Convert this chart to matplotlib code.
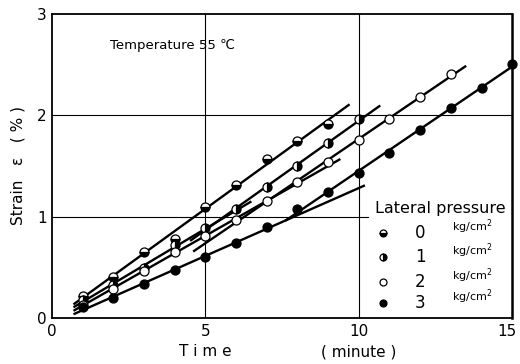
import numpy as np
import matplotlib
matplotlib.use("Agg")
import matplotlib.pyplot as plt
from matplotlib.transforms import ScaledTranslation

plt.rcParams['font.family'] = ['DejaVu Sans']

# strain readings (%) at each minute, one list per lateral pressure
t0 = [1, 2, 3, 4, 5, 6, 7, 8, 9]
s0 = [0.22, 0.41, 0.65, 0.78, 1.10, 1.31, 1.57, 1.75, 1.91]
t1 = [1, 2, 3, 4, 5, 6, 7, 8, 9, 10]
s1 = [0.18, 0.33, 0.49, 0.72, 0.885, 1.08, 1.29, 1.50, 1.73, 1.96]
t2 = [1, 2, 3, 4, 5, 6, 7, 8, 9, 10, 11, 12, 13]
s2 = [0.13, 0.29, 0.46, 0.65, 0.81, 0.97, 1.15, 1.345, 1.54, 1.76, 1.96, 2.185, 2.405]
t3 = [1, 2, 3, 4, 5, 6, 7, 8, 9, 10, 11, 12, 13, 14, 15]
s3 = [0.105, 0.195, 0.34, 0.47, 0.605, 0.743, 0.90, 1.08, 1.247, 1.434, 1.626, 1.85, 2.07, 2.27, 2.51]

pressures = ['0', '1', '2', '3']
fills = ['bottom', 'right', 'none', 'full']

# straight-line fits: (fit from, fit to, draw from, draw to)
segments = [
    [(1, 9, 0.7, 9.7)],
    [(1, 5, 0.7, 6.5), (5, 10, 4.5, 10.7)],
    [(1, 5, 0.7, 9.4), (6, 13, 4.6, 13.5)],
    [(1, 7, 0.7, 10.2), (8, 15, 7.6, 15.0)],
]

series = [(t0, s0), (t1, s1), (t2, s2), (t3, s3)]


def marker(ax, x, y, fs, ms, **kw):
    if fs == 'none':
        ax.plot(x, y, 'o', ms=ms, mfc='white', mec='black', mew=0.9, **kw)
    elif fs == 'full':
        ax.plot(x, y, 'o', ms=ms, mfc='black', mec='black', mew=0.9, **kw)
    else:
        ax.plot(x, y, 'o', ms=ms, fillstyle=fs, mfc='black', mfcalt='white',
                mec='black', mew=0.9, **kw)


fig = plt.figure(figsize=(5.2, 3.64), dpi=100)
ax = fig.add_axes([0.1, 0.126, 0.885, 0.836])

ax.set_xlim(0, 15)
ax.set_ylim(0, 3)

# grid lines
for gx in [5, 10]:
    ax.axvline(gx, color='black', lw=0.8, zorder=1)
ax.axhline(2, color='black', lw=0.8, zorder=1)
ax.plot([0, 10.3], [1, 1], color='black', lw=0.8, zorder=1)

for (t, s), segs, fs in zip(series, segments, fills):
    t = np.array(t)
    s = np.array(s)
    for a, b, d0, d1 in segs:
        m = (t >= a) & (t <= b)
        k, c = np.polyfit(t[m], s[m], 1)
        xx = np.array([d0, d1])
        ax.plot(xx, k * xx + c, color='black', lw=1.7, zorder=2, solid_capstyle='butt')
    marker(ax, t, s, fs, 6.5, zorder=3, clip_on=False)

ax.text(1.9, 2.69, 'Temperature 55 \u2103', fontsize=9.5, va='center', ha='left')

# legend drawn by hand
ax.text(0.702, 0.36, 'Lateral pressure', transform=ax.transAxes, fontsize=11.5,
        va='center', ha='left')
rows_y = [0.28, 0.20, 0.12, 0.05]
for yy, p, fs in zip(rows_y, pressures, fills):
    marker(ax, 0.72, yy, fs, 5, transform=ax.transAxes)
    ax.text(0.80, yy, p, transform=ax.transAxes, fontsize=12, va='center', ha='center')
    ax.text(0.87, yy + 0.02, 'kg/cm$^2$', transform=ax.transAxes, fontsize=8,
            va='center', ha='left')

ax.set_xticks([0, 5, 10, 15])
ax.set_xticklabels(['0', '5', '10', '15'])
ax.set_yticks([0, 1, 2, 3])
ax.set_yticklabels(['0', '1', '2', '3'])
ax.tick_params(length=0, labelsize=11, pad=4)
last = ax.get_xticklabels()[-1]
last.set_transform(last.get_transform() + ScaledTranslation(-5 / 100, 0, fig.dpi_scale_trans))
for sp in ax.spines.values():
    sp.set_linewidth(1.3)
ax.spines['right'].set_linewidth(1.8)

ax.text(5, -0.33, 'T i m e', fontsize=11, ha='center', va='center')
ax.text(10, -0.33, '( minute )', fontsize=11, ha='center', va='center')
ax.set_ylabel('Strain   \u03b5   ( % )', fontsize=11, labelpad=8)

fig.savefig('out.png', dpi=100)
